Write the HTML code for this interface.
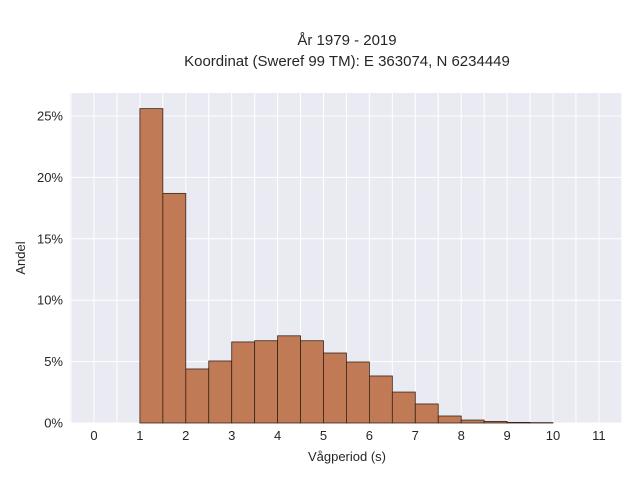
<!DOCTYPE html>
<html><head><meta charset="utf-8"><style>
body{margin:0;background:#fff;font-family:"Liberation Sans",sans-serif}
svg text{font-family:"Liberation Sans",sans-serif;fill:#262626}
</style></head><body>
<svg id="c" width="640" height="480">
<text x="347" y="45" font-size="15" text-anchor="middle">År 1979 - 2019</text>
<text x="347" y="66" font-size="15" text-anchor="middle">Koordinat (Sweref 99 TM): E 363074, N 6234449</text>
<rect x="70" y="93" width="552" height="330" fill="#eaeaf2"/>
<g id="grid"></g><g id="bars"></g><g id="ticks"></g>
<text x="347" y="461" font-size="13" text-anchor="middle">Vågperiod (s)</text>
<text transform="translate(25,258) rotate(-90)" font-size="13" text-anchor="middle">Andel</text>
</svg>
<script>
const binStarts=[1,1.5,2,2.5,3,3.5,4,4.5,5,5.5,6,6.5,7,7.5,8,8.5,9,9.5];
const shares=[25.6,18.7,4.4,5.05,6.6,6.7,7.1,6.7,5.7,4.97,3.83,2.52,1.55,0.57,0.24,0.13,0.05,0.03];
const binWidth=0.5;
const xTicks=[0,1,2,3,4,5,6,7,8,9,10,11];
const yTicks=[0,5,10,15,20,25];
const X=v=>94+v*45.9, Y=v=>423-v*12.28;
const ns="http://www.w3.org/2000/svg";
const g=document.getElementById('grid'),b=document.getElementById('bars'),t=document.getElementById('ticks');
function mk(tag,a,p){const e=document.createElementNS(ns,tag);for(const k in a)e.setAttribute(k,a[k]);p.appendChild(e);return e;}
for(let v=-0.5;v<=11.5;v+=0.5){const l=mk('line',{x1:X(v),x2:X(v),y1:93,y2:423,stroke:'#fff','stroke-width':1},g);

}
yTicks.forEach(v=>{const l=mk('line',{x1:70,x2:622,y1:Y(v),y2:Y(v),stroke:'#fff','stroke-width':1},g);


const tx=mk('text',{x:63,y:Y(v)+4.5,'font-size':13,'text-anchor':'end'},t);tx.textContent=v+'%';

});
xTicks.forEach(v=>{const tx=mk('text',{x:X(v),y:440,'font-size':13,'text-anchor':'middle'},t);tx.textContent=v;

});
binStarts.forEach((s,i)=>{const r=mk('rect',{x:X(s),y:Y(shares[i]),width:X(s+binWidth)-X(s),height:Y(0)-Y(shares[i]),fill:'#c07a55',stroke:'#3a2418','stroke-width':0.8},b);

});
</script>
</body></html>
